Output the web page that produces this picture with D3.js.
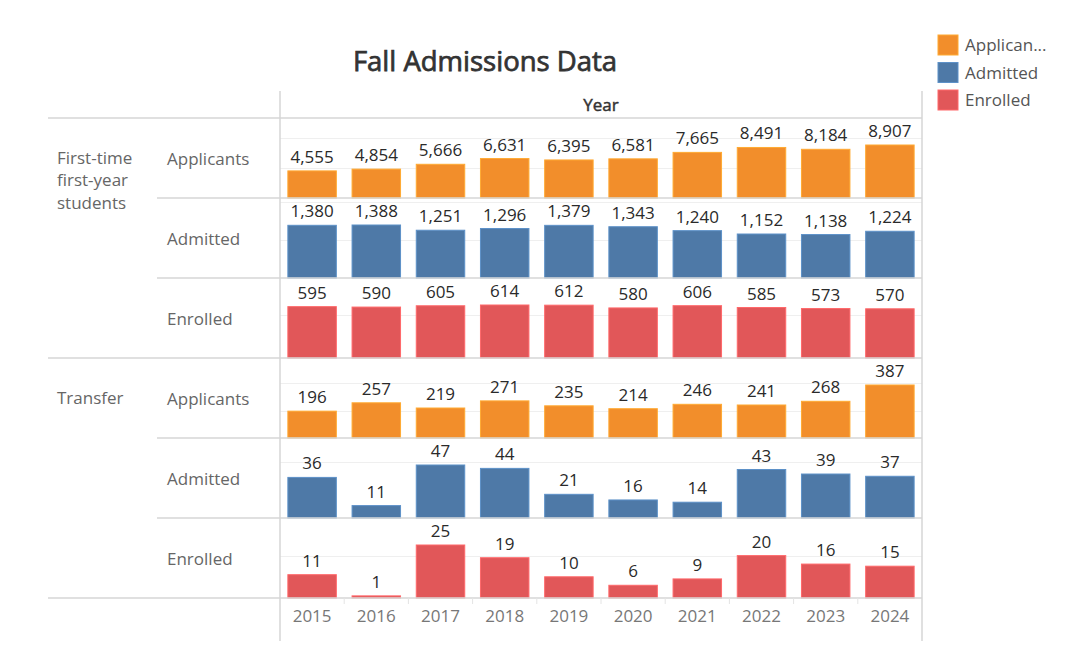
<!DOCTYPE html>
<html>
<head>
<meta charset="utf-8">
<script src="https://cdn.jsdelivr.net/npm/d3@7"></script>
<style>
  html, body { margin: 0; padding: 0; background: #fff; }
  svg { display: block; font-family: "Open Sans", sans-serif; }
</style>
</head>
<body>
<svg id="chart" width="1080" height="656"></svg>
<script>
// ---- data ----
const years = ["2015","2016","2017","2018","2019","2020","2021","2022","2023","2024"];
const ftApplicants = [4555, 4854, 5666, 6631, 6395, 6581, 7665, 8491, 8184, 8907];
const ftAdmitted   = [1380, 1388, 1251, 1296, 1379, 1343, 1240, 1152, 1138, 1224];
const ftEnrolled   = [595, 590, 605, 614, 612, 580, 606, 585, 573, 570];
const trApplicants = [196, 257, 219, 271, 235, 214, 246, 241, 268, 387];
const trAdmitted   = [36, 11, 47, 44, 21, 16, 14, 43, 39, 37];
const trEnrolled   = [11, 1, 25, 19, 10, 6, 9, 20, 16, 15];
const groupLabels  = [["First-time", "first-year", "students"], ["Transfer"]];
const measures     = ["Applicants", "Admitted", "Enrolled"];
const legendLabels = ["Applican...", "Admitted", "Enrolled"];
const colors       = ["#F28E2B", "#4E79A7", "#E15759"];

const rows = [
  { group: 0, measure: 0, values: ftApplicants },
  { group: 0, measure: 1, values: ftAdmitted },
  { group: 0, measure: 2, values: ftEnrolled },
  { group: 1, measure: 0, values: trApplicants },
  { group: 1, measure: 1, values: trAdmitted },
  { group: 1, measure: 2, values: trEnrolled }
];

// ---- layout ----
const svg = d3.select("#chart");
const plotL = 280, plotR = 922;
const rowTop = 118, rowH = 80;
const lineColor = "#d6d6d6";
const fmt = d3.format(",");

const x = d3.scaleBand().domain(years).range([plotL, plotR]).paddingInner(0.245).paddingOuter(0.1225);
const rowY = d3.scaleBand().domain(d3.range(rows.length)).range([rowTop, rowTop + rowH * rows.length]);

// title
svg.append("text").attr("x", 485).attr("y", 71).attr("text-anchor", "middle")
  .attr("font-size", 27.5).attr("font-weight", 400).attr("fill", "#333")
  .attr("stroke", "#333").attr("stroke-width", 0.75)
  .text("Fall Admissions Data");

// column header
svg.append("text").attr("x", (plotL + plotR) / 2).attr("y", 111).attr("text-anchor", "middle")
  .attr("font-size", 17).attr("font-weight", 400).attr("fill", "#333")
  .attr("stroke", "#333").attr("stroke-width", 0.45).text("Year");

// rows
rows.forEach((r, i) => {
  const top = rowY(i), bottom = top + rowH;
  const max = d3.max(r.values);
  const y = d3.scaleLinear().domain([0, max * 80 / 53]).range([bottom, top]);
  const g = svg.append("g");
  // gridlines
  g.selectAll("line.grid").data(y.ticks(2).filter(t => t > 0 && t <= y.domain()[1]))
    .join("line").attr("class", "grid")
    .attr("x1", plotL).attr("x2", plotR)
    .attr("y1", d => Math.round(y(d)) + 0.5).attr("y2", d => Math.round(y(d)) + 0.5)
    .attr("stroke", "#efefef").attr("stroke-width", 1);
  // bars
  const c = colors[r.measure];
  g.selectAll("rect").data(r.values).join("rect")
    .attr("x", (d, j) => x(years[j]))
    .attr("width", x.bandwidth())
    .attr("y", d => y(d))
    .attr("height", d => y(0) - y(d))
    .attr("fill", c)
    .attr("stroke", d3.color(c).brighter(0.5))
    .attr("stroke-width", 1);
  // labels
  g.selectAll("text.val").data(r.values).join("text").attr("class", "val")
    .attr("x", (d, j) => x(years[j]) + x.bandwidth() / 2)
    .attr("y", d => y(d) - 8)
    .attr("text-anchor", "middle").attr("font-size", 17).attr("fill", "#2a2a2a")
    .text(d => fmt(d));
  // measure header
  svg.append("text").attr("x", 167).attr("y", top + 47)
    .attr("font-size", 17).attr("fill", "#666").text(measures[r.measure]);
});

// group headers
groupLabels.forEach((lines, gi) => {
  const top = rowY(gi * 3);
  const t = svg.append("text").attr("font-size", 17).attr("fill", "#666");
  lines.forEach((ln, k) => {
    t.append("tspan").attr("x", 57).attr("y", top + 45.5 + k * 22.5).text(ln);
  });
});

// separators
const seps = [];
for (let i = 0; i <= rows.length; i++) {
  const yy = rowTop + i * rowH;
  seps.push({ y: yy, x1: (i % 3 === 0) ? 48 : 157 });
}
svg.selectAll("line.sep").data(seps).join("line").attr("class", "sep")
  .attr("x1", d => d.x1).attr("x2", plotR)
  .attr("y1", d => d.y).attr("y2", d => d.y)
  .attr("stroke", lineColor).attr("stroke-width", 1.5);

// vertical borders
[plotL, plotR].forEach(xx => {
  svg.append("line").attr("x1", xx).attr("x2", xx).attr("y1", 91).attr("y2", 641)
    .attr("stroke", lineColor).attr("stroke-width", 1.5);
});

// x axis
const axisY = rowTop + rowH * rows.length;
const axis = svg.append("g").attr("transform", `translate(0,${axisY})`)
  .call(d3.axisBottom(x).tickSize(0).tickPadding(0));
axis.select(".domain").remove();
axis.selectAll("text").attr("y", 24).attr("dy", 0)
  .attr("font-family", "Open Sans, sans-serif").attr("font-size", 17).attr("fill", "#777");
// tick marks between bands
svg.selectAll("line.tk").data(d3.range(1, years.length)).join("line").attr("class", "tk")
  .attr("x1", d => plotL + d * (plotR - plotL) / years.length)
  .attr("x2", d => plotL + d * (plotR - plotL) / years.length)
  .attr("y1", axisY).attr("y2", axisY + 6)
  .attr("stroke", "#e4e4e4").attr("stroke-width", 1);

// legend
const lg = svg.append("g");
legendLabels.forEach((lab, i) => {
  const yy = 35 + i * 27.5;
  lg.append("rect").attr("x", 938).attr("y", yy).attr("width", 20).attr("height", 20)
    .attr("fill", colors[i]).attr("stroke", d3.color(colors[i]).brighter(0.5)).attr("stroke-width", 1);
  lg.append("text").attr("x", 965).attr("y", yy + 16).attr("font-size", 17).attr("fill", "#555").text(lab);
});
</script>
</body>
</html>
